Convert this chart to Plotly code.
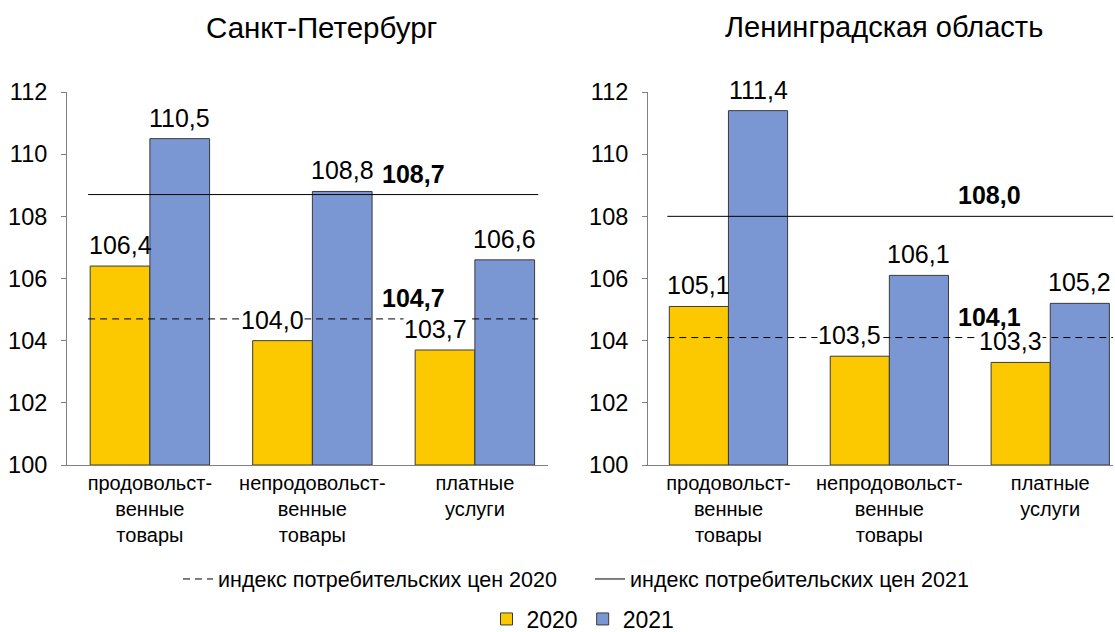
import plotly.graph_objects as go

categories = ["продовольст-<br>венные<br>товары", "непродовольст-<br>венные<br>товары", "платные<br>услуги"]
spb_2020 = [106.4, 104.0, 103.7]
spb_2021 = [110.5, 108.8, 106.6]
lo_2020 = [105.1, 103.5, 103.3]
lo_2021 = [111.4, 106.1, 105.2]
spb_cpi = {"2020": 104.7, "2021": 108.7}
lo_cpi = {"2020": 104.1, "2021": 108.0}
titles = ["Санкт-Петербург", "Ленинградская область"]

YELLOW = "#FCC900"
BLUE = "#7B97D3"
OUT = "#3A3A3A"
FONT = "Arial, Liberation Sans, sans-serif"
BARGAP = 0.265
half = (1 - BARGAP) / 4  # center offset of each bar in a group

def fmt(v):
    return f"{v:.1f}".replace(".", ",")

fig = go.Figure()
panels = [
    ("x", "y", spb_2020, spb_2021, spb_cpi, True),
    ("x2", "y2", lo_2020, lo_2021, lo_cpi, False),
]
xs = list(range(len(categories)))
annotations = []
for xa, ya, v20, v21, cpi, first in panels:
    fig.add_trace(go.Bar(x=xs, y=[v - 100 for v in v20], base=100, name="2020", marker=dict(color=YELLOW, line=dict(color=OUT, width=1)),
                         xaxis=xa, yaxis=ya, legend="legend2", showlegend=first, offsetgroup="a", legendgroup="b20"))
    fig.add_trace(go.Bar(x=xs, y=[v - 100 for v in v21], base=100, name="2021", marker=dict(color=BLUE, line=dict(color=OUT, width=1)),
                         xaxis=xa, yaxis=ya, legend="legend2", showlegend=first, offsetgroup="b", legendgroup="b21"))
    lx = [-0.38, 2.39]
    fig.add_trace(go.Scatter(x=lx, y=[cpi["2020"]] * 2, mode="lines", line=dict(color="black", width=1, dash="7px,5px"),
                             name="индекс потребительских цен 2020", xaxis=xa, yaxis=ya, showlegend=first, legend="legend", legendgroup="l20"))
    fig.add_trace(go.Scatter(x=lx, y=[cpi["2021"]] * 2, mode="lines", line=dict(color="black", width=1),
                             name="индекс потребительских цен 2021", xaxis=xa, yaxis=ya, showlegend=first, legend="legend", legendgroup="l21"))
    for i in xs:
        for v, off in ((v20[i], -half), (v21[i], half)):
            # labels whose box would sit on a CPI line get a white background (as in the original)
            on_line = any(v + 0.15 < c < v + 1.15 for c in cpi.values())
            annotations.append(dict(x=i + off, y=v, xref=xa, yref=ya, text=fmt(v), showarrow=False,
                                    xanchor="center", yanchor="bottom", yshift=6, xshift=-10 if on_line else 0,
                                    bgcolor="white" if on_line else None, borderpad=0,
                                    font=dict(size=25, color="black", family=FONT)))
    for key in ("2020", "2021"):
        annotations.append(dict(x=1.62, y=cpi[key], xref=xa, yref=ya, text="<b>" + fmt(cpi[key]) + "</b>", showarrow=False,
                                xanchor="center", yanchor="bottom", yshift=5, font=dict(size=25, color="black", family=FONT)))

annotations.append(dict(x=321 / 1115, y=1 - 27 / 632, xref="paper", yref="paper", text=titles[0], showarrow=False,
                        xanchor="center", yanchor="middle", font=dict(size=29.5, color="black", family=FONT)))
annotations.append(dict(x=884 / 1115, y=1 - 27 / 632, xref="paper", yref="paper", text=titles[1], showarrow=False,
                        xanchor="center", yanchor="middle", font=dict(size=29, color="black", family=FONT)))

ydom = [(632 - 465) / 632, (632 - 92) / 632]
yax = dict(range=[100, 112], dtick=2, ticks="outside", ticklen=5, tickcolor="#808080", showline=True, linecolor="#808080",
           linewidth=1, showgrid=False, zeroline=False, tickfont=dict(size=23.5, color="black", family=FONT), ticklabelstandoff=9)
xax = dict(tickvals=xs, ticktext=categories, showline=True, linecolor="#808080", linewidth=1, ticks="", showgrid=False,
           zeroline=False, tickfont=dict(size=20, color="black", family=FONT))

fig.update_layout(
    width=1115, height=632, margin=dict(l=0, r=0, t=0, b=0, autoexpand=False),
    paper_bgcolor="white", plot_bgcolor="white",
    barmode="group", bargap=BARGAP, bargroupgap=0,
    font=dict(family=FONT, color="black"),
    xaxis=dict(domain=[67 / 1115, 548 / 1115], range=[-0.51, 2.45], anchor="y", **xax),
    xaxis2=dict(domain=[648 / 1115, 1113 / 1115], range=[-0.5, 2.39], anchor="y2", **xax),
    yaxis=dict(domain=ydom, anchor="x", **yax),
    yaxis2=dict(domain=ydom, anchor="x2", **yax),
    legend=dict(orientation="h", x=178 / 1115, xanchor="left", y=1 - 579 / 632, yanchor="middle",
                font=dict(size=21.5, color="black", family=FONT), itemwidth=30, entrywidth=367, traceorder="normal"),
    legend2=dict(orientation="h", x=583 / 1115, xanchor="center", y=1 - 619 / 632, yanchor="middle",
                 font=dict(size=23, color="black", family=FONT), traceorder="normal"),
    annotations=annotations,
    showlegend=True,
)
fig.write_html("out.html", post_script="document.body.style.margin='0';", config={"displayModeBar": False})
